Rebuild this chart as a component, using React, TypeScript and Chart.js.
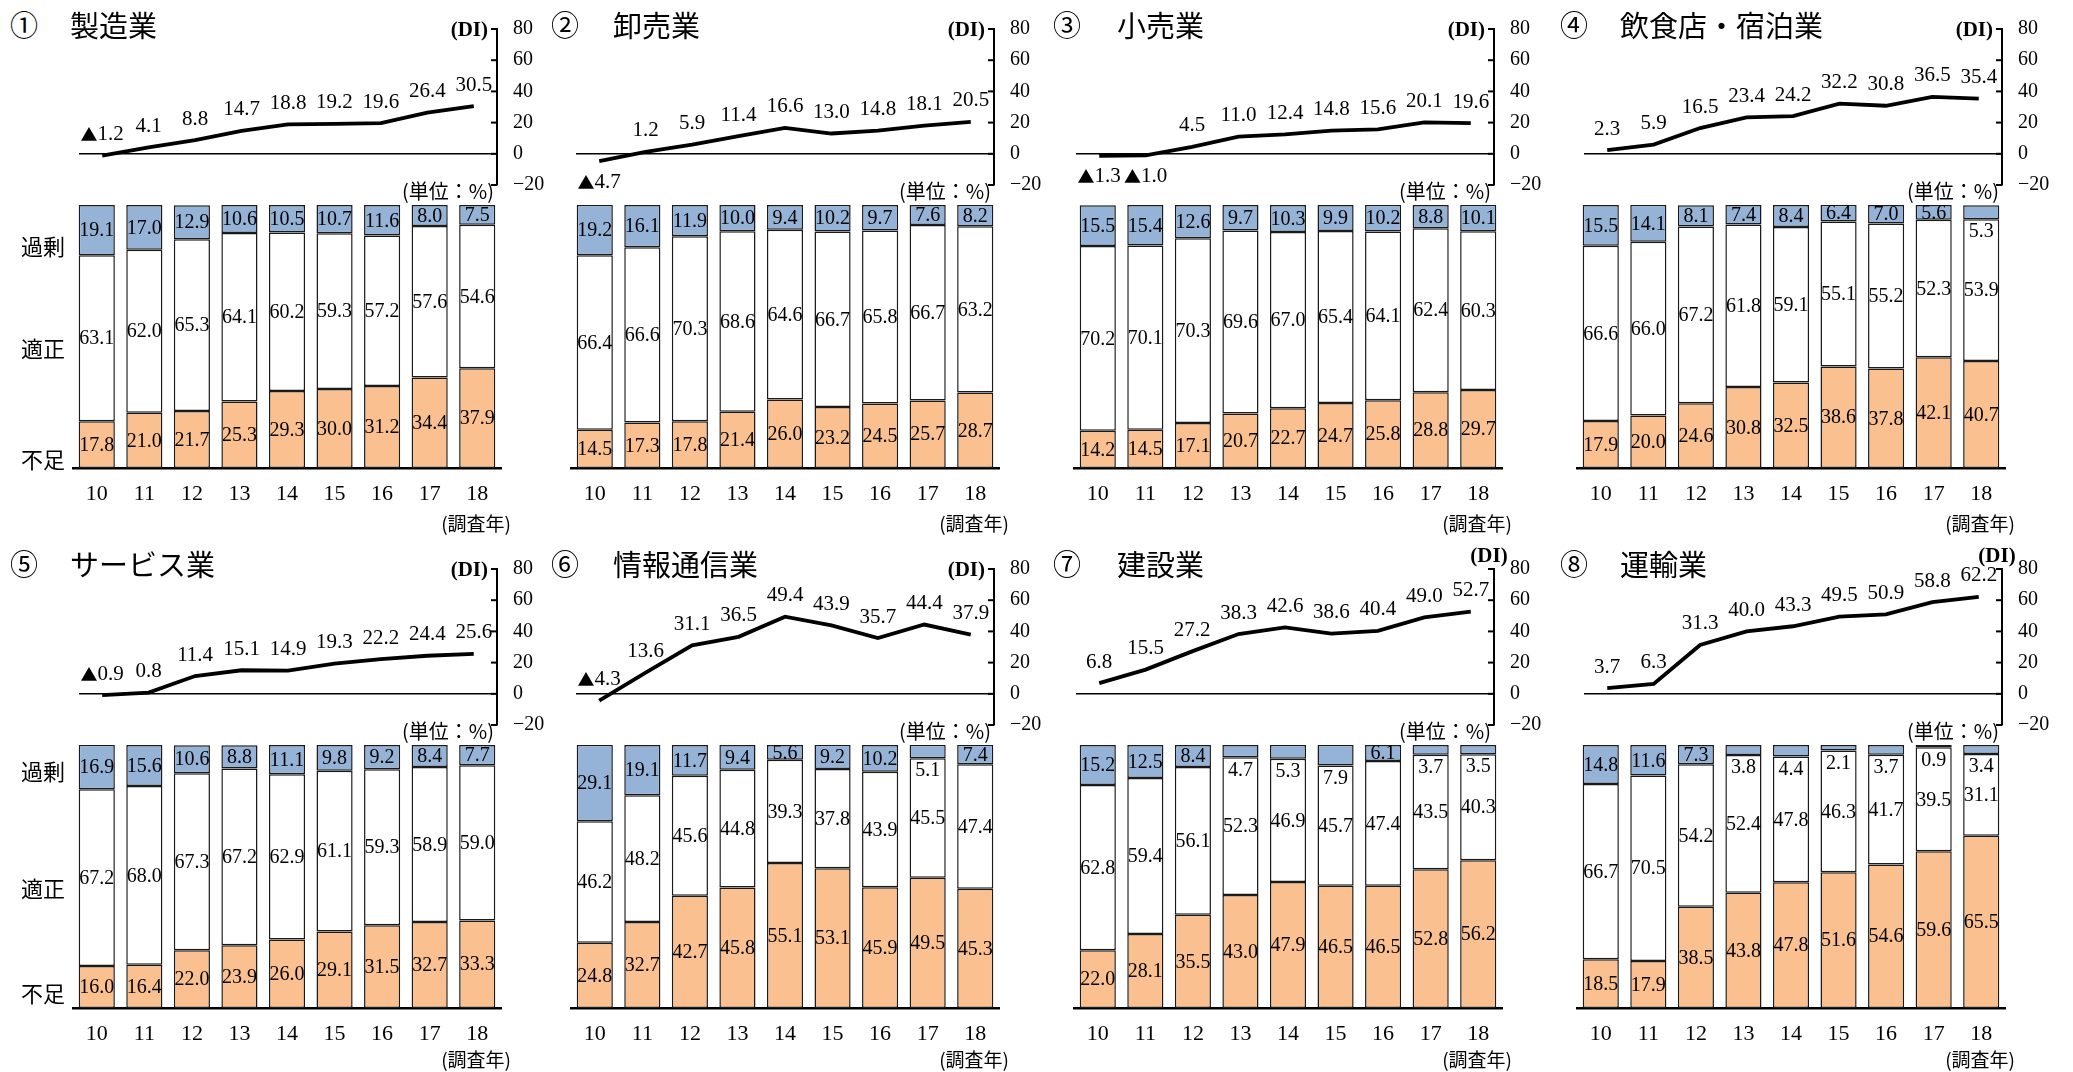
import React, { useEffect, useRef } from 'react';
import { Chart, registerables } from 'chart.js';

Chart.register(...registerables);

// 調査年 (category labels)
const years = ['10', '11', '12', '13', '14', '15', '16', '17', '18'];

// ① 製造業
const diMfg = [-1.2, 4.1, 8.8, 14.7, 18.8, 19.2, 19.6, 26.4, 30.5];
const surplusMfg = [19.1, 17.0, 12.9, 10.6, 10.5, 10.7, 11.6, 8.0, 7.5];
const adequateMfg = [63.1, 62.0, 65.3, 64.1, 60.2, 59.3, 57.2, 57.6, 54.6];
const shortageMfg = [17.8, 21.0, 21.7, 25.3, 29.3, 30.0, 31.2, 34.4, 37.9];

// ② 卸売業
const diWholesale = [-4.7, 1.2, 5.9, 11.4, 16.6, 13.0, 14.8, 18.1, 20.5];
const surplusWholesale = [19.2, 16.1, 11.9, 10.0, 9.4, 10.2, 9.7, 7.6, 8.2];
const adequateWholesale = [66.4, 66.6, 70.3, 68.6, 64.6, 66.7, 65.8, 66.7, 63.2];
const shortageWholesale = [14.5, 17.3, 17.8, 21.4, 26.0, 23.2, 24.5, 25.7, 28.7];

// ③ 小売業
const diRetail = [-1.3, -1.0, 4.5, 11.0, 12.4, 14.8, 15.6, 20.1, 19.6];
const surplusRetail = [15.5, 15.4, 12.6, 9.7, 10.3, 9.9, 10.2, 8.8, 10.1];
const adequateRetail = [70.2, 70.1, 70.3, 69.6, 67.0, 65.4, 64.1, 62.4, 60.3];
const shortageRetail = [14.2, 14.5, 17.1, 20.7, 22.7, 24.7, 25.8, 28.8, 29.7];

// ④ 飲食店・宿泊業
const diFood = [2.3, 5.9, 16.5, 23.4, 24.2, 32.2, 30.8, 36.5, 35.4];
const surplusFood = [15.5, 14.1, 8.1, 7.4, 8.4, 6.4, 7.0, 5.6, 5.3];
const adequateFood = [66.6, 66.0, 67.2, 61.8, 59.1, 55.1, 55.2, 52.3, 53.9];
const shortageFood = [17.9, 20.0, 24.6, 30.8, 32.5, 38.6, 37.8, 42.1, 40.7];

// ⑤ サービス業
const diService = [-0.9, 0.8, 11.4, 15.1, 14.9, 19.3, 22.2, 24.4, 25.6];
const surplusService = [16.9, 15.6, 10.6, 8.8, 11.1, 9.8, 9.2, 8.4, 7.7];
const adequateService = [67.2, 68.0, 67.3, 67.2, 62.9, 61.1, 59.3, 58.9, 59.0];
const shortageService = [16.0, 16.4, 22.0, 23.9, 26.0, 29.1, 31.5, 32.7, 33.3];

// ⑥ 情報通信業
const diInfo = [-4.3, 13.6, 31.1, 36.5, 49.4, 43.9, 35.7, 44.4, 37.9];
const surplusInfo = [29.1, 19.1, 11.7, 9.4, 5.6, 9.2, 10.2, 5.1, 7.4];
const adequateInfo = [46.2, 48.2, 45.6, 44.8, 39.3, 37.8, 43.9, 45.5, 47.4];
const shortageInfo = [24.8, 32.7, 42.7, 45.8, 55.1, 53.1, 45.9, 49.5, 45.3];

// ⑦ 建設業
const diConstr = [6.8, 15.5, 27.2, 38.3, 42.6, 38.6, 40.4, 49.0, 52.7];
const surplusConstr = [15.2, 12.5, 8.4, 4.7, 5.3, 7.9, 6.1, 3.7, 3.5];
const adequateConstr = [62.8, 59.4, 56.1, 52.3, 46.9, 45.7, 47.4, 43.5, 40.3];
const shortageConstr = [22.0, 28.1, 35.5, 43.0, 47.9, 46.5, 46.5, 52.8, 56.2];

// ⑧ 運輸業
const diTransport = [3.7, 6.3, 31.3, 40.0, 43.3, 49.5, 50.9, 58.8, 62.2];
const surplusTransport = [14.8, 11.6, 7.3, 3.8, 4.4, 2.1, 3.7, 0.9, 3.4];
const adequateTransport = [66.7, 70.5, 54.2, 52.4, 47.8, 46.3, 41.7, 39.5, 31.1];
const shortageTransport = [18.5, 17.9, 38.5, 43.8, 47.8, 51.6, 54.6, 59.6, 65.5];

const panels = [
  { num: '①', name: '製造業', di: diMfg, surplus: surplusMfg, adequate: adequateMfg, shortage: shortageMfg },
  { num: '②', name: '卸売業', di: diWholesale, surplus: surplusWholesale, adequate: adequateWholesale, shortage: shortageWholesale },
  { num: '③', name: '小売業', di: diRetail, surplus: surplusRetail, adequate: adequateRetail, shortage: shortageRetail },
  { num: '④', name: '飲食店・宿泊業', di: diFood, surplus: surplusFood, adequate: adequateFood, shortage: shortageFood },
  { num: '⑤', name: 'サービス業', di: diService, surplus: surplusService, adequate: adequateService, shortage: shortageService },
  { num: '⑥', name: '情報通信業', di: diInfo, surplus: surplusInfo, adequate: adequateInfo, shortage: shortageInfo },
  { num: '⑦', name: '建設業', di: diConstr, surplus: surplusConstr, adequate: adequateConstr, shortage: shortageConstr },
  { num: '⑧', name: '運輸業', di: diTransport, surplus: surplusTransport, adequate: adequateTransport, shortage: shortageTransport },
];

// layout per column / row
const colLineX = [0, 497, 997, 1505];
const colBarX = [0, 498, 1001, 1504];
const rowY = [0, 540];
const titleNumX = [10, 551, 1053, 1560];
const titleTextX = [70, 613, 1117, 1620];
const titleY = [24, 563];
const yearCaptionY = [522, 1058];
const sideLabelY = [
  [245, 347, 458],
  [770, 887, 992],
];
// negative DI values labelled under the line
const negLabelBelow = [false, true, true, false, false, false, false, false];
// small 過剰 values labelled inside the white segment
const surplusLabelInWhite: number[][] = [[], [], [], [8], [], [7], [3, 4, 5, 7, 8], [3, 4, 5, 6, 7, 8]];
// (DI) caption sitting above the axis
const diCaptionAbove = [false, false, false, false, false, false, true, true];

const SERIF = '"Liberation Serif", "DejaVu Serif", serif';
const JP = '"Noto Sans CJK JP", "Noto Sans", sans-serif';
const ORANGE = '#FAC090';
const BLUE = '#95B3D7';

function makeLineLabelPlugin(below: boolean) {
  return {
    id: 'diLabels',
    afterDatasetsDraw(chart: any) {
      const ctx = chart.ctx;
      const meta = chart.getDatasetMeta(0);
      const data = chart.data.datasets[0].data as number[];
      const numFont = `21px ${SERIF}`;
      const triFont = `17px ${JP}`;
      ctx.save();
      ctx.fillStyle = '#000';
      ctx.textBaseline = 'middle';
      ctx.textAlign = 'left';
      meta.data.forEach((pt: any, i: number) => {
        const v = data[i];
        const num = Math.abs(v).toFixed(1);
        const dy = v < 0 && below ? 21 : -21;
        const cy = pt.y + dy;
        ctx.font = numFont;
        const wNum = ctx.measureText(num).width;
        let wTri = 0;
        if (v < 0) {
          ctx.font = triFont;
          wTri = ctx.measureText('▲').width;
        }
        let x = pt.x - (wNum + wTri) / 2;
        if (v < 0) {
          ctx.font = triFont;
          ctx.fillText('▲', x, cy);
          x += wTri;
        }
        ctx.font = numFont;
        ctx.fillText(num, x, cy);
      });
      ctx.restore();
    },
  };
}

const innerTicksPlugin = {
  id: 'innerTicks',
  afterDraw(chart: any) {
    const ctx = chart.ctx;
    const s = chart.scales.y;
    const right = chart.chartArea.right;
    ctx.save();
    ctx.strokeStyle = '#000';
    ctx.lineWidth = 2;
    s.ticks.forEach((t: any) => {
      const y = s.getPixelForValue(t.value);
      ctx.beginPath();
      ctx.moveTo(right - 6, y);
      ctx.lineTo(right, y);
      ctx.stroke();
    });
    ctx.restore();
  },
};

function makeBarLabelPlugin(inWhite: number[]) {
  return {
    id: 'barLabels',
    afterDatasetsDraw(chart: any) {
      const ctx = chart.ctx;
      ctx.save();
      ctx.font = `20px ${SERIF}`;
      ctx.fillStyle = '#000';
      ctx.textAlign = 'center';
      ctx.textBaseline = 'middle';
      chart.data.datasets.forEach((ds: any, di: number) => {
        const meta = chart.getDatasetMeta(di);
        meta.data.forEach((bar: any, i: number) => {
          const { x, y, base } = bar.getProps(['x', 'y', 'base'], true);
          const v = ds.data[i] as number;
          let cy = (y + base) / 2 + 1;
          if (di === 2 && inWhite.includes(i)) cy = base + 13;
          ctx.fillText(v.toFixed(1), x, cy);
        });
      });
      ctx.restore();
    },
  };
}

function Text({ x, y, children, size, font, align = 'center', weight = 400 }: any) {
  const tx = align === 'center' ? '-50%' : align === 'right' ? '-100%' : '0';
  return (
    <div
      style={{
        position: 'absolute',
        left: x,
        top: y,
        transform: `translate(${tx}, -50%)`,
        fontSize: size,
        fontFamily: font,
        fontWeight: weight,
        lineHeight: 1,
        whiteSpace: 'nowrap',
        color: '#000',
      }}
    >
      {children}
    </div>
  );
}

function Panel({ idx }: { idx: number }) {
  const p = panels[idx];
  const col = idx % 4;
  const row = Math.floor(idx / 4);
  const lx = colLineX[col];
  const bx = colBarX[col];
  const oy = rowY[row];
  const lineRef = useRef<HTMLCanvasElement>(null);
  const barRef = useRef<HTMLCanvasElement>(null);

  useEffect(() => {
    const lineChart = new Chart(lineRef.current as HTMLCanvasElement, {
      type: 'line',
      data: {
        labels: years,
        datasets: [
          {
            data: p.di,
            borderColor: '#000',
            borderWidth: 3.8,
            pointRadius: 0,
            fill: false,
            tension: 0,
          },
        ],
      },
      options: {
        responsive: false,
        animation: false,
        layout: { padding: { left: 19, top: 29, bottom: 28, right: 0 } },
        plugins: { legend: { display: false }, tooltip: { enabled: false } },
        scales: {
          x: { type: 'category', display: false, offset: true },
          y: {
            position: 'right',
            min: -20,
            max: 80,
            afterFit: (s: any) => {
              s.width = 63;
            },
            ticks: {
              stepSize: 20,
              padding: 16,
              color: '#000',
              font: { family: SERIF, size: 20 },
              callback: (v: any) => (Number(v) < 0 ? '−' + Math.abs(Number(v)) : String(v)),
            },
            grid: {
              drawTicks: false,
              color: (c: any) => (c.tick && c.tick.value === 0 ? '#000' : 'rgba(0,0,0,0)'),
              lineWidth: 1.5,
            },
            border: { display: true, color: '#000', width: 2 },
          },
        },
      },
      plugins: [makeLineLabelPlugin(negLabelBelow[idx]), innerTicksPlugin],
    } as any);

    const common = {
      borderColor: '#1a1a1a',
      borderWidth: 1.5,
      borderSkipped: false,
      categoryPercentage: 1,
      barPercentage: 0.76,
    };
    const barChart = new Chart(barRef.current as HTMLCanvasElement, {
      type: 'bar',
      data: {
        labels: years,
        datasets: [
          { label: '不足', data: p.shortage, backgroundColor: ORANGE, ...common },
          { label: '適正', data: p.adequate, backgroundColor: '#FFFFFF', ...common },
          { label: '過剰', data: p.surplus, backgroundColor: BLUE, ...common },
        ],
      },
      options: {
        responsive: false,
        animation: false,
        layout: { padding: { left: 13, right: 19, top: 10, bottom: 0 } },
        plugins: { legend: { display: false }, tooltip: { enabled: false } },
        scales: {
          x: {
            stacked: true,
            grid: { display: false, drawTicks: false },
            border: { display: true, color: '#000', width: 2.5 },
            ticks: { color: '#000', font: { family: SERIF, size: 22 }, padding: 13, maxRotation: 0 },
            afterFit: (s: any) => {
              s.height = 42;
            },
          },
          y: { stacked: true, display: false, min: 0, max: 100 },
        },
      },
      plugins: [makeBarLabelPlugin(surplusLabelInWhite[idx])],
    } as any);

    return () => {
      lineChart.destroy();
      barChart.destroy();
    };
  }, [idx]);

  const axisX = lx + 497;
  const diAbove = diCaptionAbove[idx];

  return (
    <>
      <canvas
        ref={lineRef}
        width={500}
        height={213}
        style={{ position: 'absolute', left: lx + 60, top: oy, width: 500, height: 213 }}
      />
      <canvas
        ref={barRef}
        width={460}
        height={315}
        style={{ position: 'absolute', left: bx + 60, top: oy + 195, width: 460, height: 315 }}
      />
      <Text x={titleNumX[col]} y={titleY[row]} size={28} font={JP} align="left">
        {p.num}
      </Text>
      <Text x={titleTextX[col]} y={titleY[row]} size={29} font={JP} align="left">
        {p.name}
      </Text>
      {diAbove ? (
        <Text x={axisX - 5} y={oy + 15} size={21} font={SERIF} weight={700}>
          (DI)
        </Text>
      ) : (
        <Text x={axisX - 9} y={oy + 29} size={21} font={SERIF} weight={700} align="right">
          (DI)
        </Text>
      )}
      <Text x={axisX - 3} y={oy + 191} size={20} font={JP} align="right">
        (単位：%)
      </Text>
      <Text x={bx + 511} y={yearCaptionY[row]} size={19} font={JP} align="right">
        (調査年)
      </Text>
      {col === 0 && (
        <>
          <Text x={43} y={sideLabelY[row][0]} size={22} font={JP}>
            過剰
          </Text>
          <Text x={43} y={sideLabelY[row][1]} size={22} font={JP}>
            適正
          </Text>
          <Text x={43} y={sideLabelY[row][2]} size={22} font={JP}>
            不足
          </Text>
        </>
      )}
    </>
  );
}

export default function App() {
  return (
    <div
      style={{
        position: 'absolute',
        left: 0,
        top: 0,
        width: 2073,
        height: 1072,
        background: '#fff',
        overflow: 'hidden',
      }}
    >
      {panels.map((_, i) => (
        <Panel key={i} idx={i} />
      ))}
    </div>
  );
}
